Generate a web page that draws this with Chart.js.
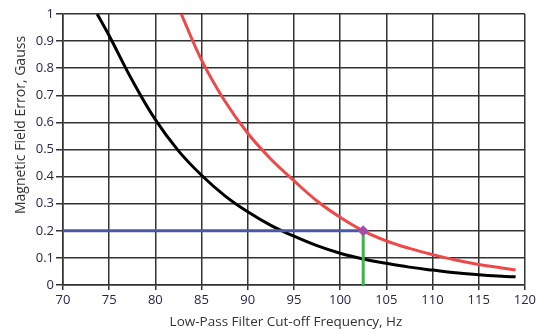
<!DOCTYPE html>
<html>
<head>
<meta charset="utf-8">
<style>
  html, body { margin: 0; padding: 0; background: #ffffff; }
  #wrap { width: 538px; height: 333px; position: relative; }
</style>
<script src="https://cdn.jsdelivr.net/npm/chart.js@4/dist/chart.umd.min.js"></script>
</head>
<body>
<div id="wrap"><canvas id="errorChart"></canvas></div>
<script>
// values
const blackFreq = [73.7, 75, 77.5, 80, 82.5, 85, 87.5, 90, 92.5, 95, 97.5, 100, 102.5, 105, 107.5, 110, 112.5, 115, 117.5, 119];
const blackError = [1.0, 0.92, 0.755, 0.61, 0.495, 0.405, 0.33, 0.27, 0.22, 0.18, 0.145, 0.117, 0.096, 0.08, 0.066, 0.055, 0.045, 0.038, 0.032, 0.03];

const redFreq = [82.8, 85, 87.5, 90, 92.5, 95, 97.5, 100, 102.5, 105, 107.5, 110, 112.5, 115, 117.5, 119];
const redError = [1.0, 0.83, 0.68, 0.56, 0.465, 0.385, 0.31, 0.25, 0.2, 0.163, 0.135, 0.112, 0.092, 0.076, 0.063, 0.056];

const cutoffFreq = 102.5;
const errorLimit = 0.2;

const xTicks = [70, 75, 80, 85, 90, 95, 100, 105, 110, 115, 120];
const yTicks = ["0", "0.1", "0.2", "0.3", "0.4", "0.5", "0.6", "0.7", "0.8", "0.9", "1"];

const xTitle = "Low-Pass Filter Cut-off Frequency, Hz";
const yTitle = "Magnetic Field Error, Gauss";

const toPoints = (xs, ys) => xs.map((x, i) => ({ x: x, y: ys[i] }));

// axis titles sit a little off-centre in the original, so draw them by hand
const axisTitles = {
  id: "axisTitles",
  afterDraw(chart) {
    const c = chart.ctx;
    c.save();
    c.fillStyle = "#333333";
    c.font = "13.5px 'Open Sans', 'DejaVu Sans', sans-serif";
    c.textAlign = "center";
    c.textBaseline = "middle";
    c.fillText(xTitle, 286, 322);
    c.translate(21, 125);
    c.rotate(-Math.PI / 2);
    c.font = "14px 'Open Sans', 'DejaVu Sans', sans-serif";
    c.fillText(yTitle, 0, 0);
    c.restore();
  },
};

document.addEventListener("DOMContentLoaded", function () {
  const ctx = document.getElementById("errorChart").getContext("2d");
  Chart.defaults.font.family = "'Open Sans', 'DejaVu Sans', sans-serif";

  const gridColor = "#333333";
  const tickColor = "#26264a";

  new Chart(ctx, {
    type: "line",
    data: {
      datasets: [
        {
          label: "marker",
          data: [{ x: cutoffFreq, y: errorLimit }],
          showLine: false,
          pointStyle: "rectRot",
          pointRadius: 5,
          backgroundColor: "#a04ea6",
          borderColor: "#a04ea6",
          order: 0,
        },
        {
          label: "cutoff",
          data: [{ x: cutoffFreq, y: 0 }, { x: cutoffFreq, y: errorLimit }],
          borderColor: "#3cb54a",
          borderWidth: 3,
          pointRadius: 0,
          order: 1,
        },
        {
          label: "limit",
          data: [{ x: xTicks[0], y: errorLimit }, { x: cutoffFreq, y: errorLimit }],
          borderColor: "#4b58a6",
          borderWidth: 3,
          pointRadius: 0,
          order: 2,
        },
        {
          label: "red",
          data: toPoints(redFreq, redError),
          borderColor: "#f04848",
          borderWidth: 3,
          pointRadius: 0,
          tension: 0.4,
          order: 3,
        },
        {
          label: "black",
          data: toPoints(blackFreq, blackError),
          borderColor: "#000000",
          borderWidth: 3,
          pointRadius: 0,
          tension: 0.4,
          order: 4,
        },
      ],
    },
    options: {
      responsive: true,
      maintainAspectRatio: false,
      animation: false,
      layout: {
        padding: { top: 14, right: 10, left: 0, bottom: 0 },
      },
      scales: {
        x: {
          type: "linear",
          min: 70,
          max: 120,
          afterBuildTicks: (scale) => {
            scale.ticks = xTicks.map((v) => ({ value: v }));
          },
          afterFit: (scale) => {
            scale.height = 48;
          },
          ticks: {
            color: tickColor,
            font: { size: 13 },
            padding: 2,
            maxRotation: 0,
          },
          grid: {
            color: gridColor,
            lineWidth: 1.5,
            tickLength: 5,
          },
          border: { color: gridColor, width: 1.5 },
        },
        y: {
          type: "linear",
          min: 0,
          max: 1,
          afterBuildTicks: (scale) => {
            scale.ticks = yTicks.map((t) => ({ value: parseFloat(t) }));
          },
          afterFit: (scale) => {
            scale.width = 63;
          },
          ticks: {
            color: tickColor,
            font: { size: 13 },
            padding: 2,
            callback: (value, index) => yTicks[index],
          },
          grid: {
            color: gridColor,
            lineWidth: 1.5,
            tickLength: 7,
          },
          border: { color: gridColor, width: 1.5 },
        },
      },
      plugins: {
        legend: { display: false },
        tooltip: { enabled: false },
      },
    },
    plugins: [axisTitles],
  });
});
</script>
</body>
</html>
